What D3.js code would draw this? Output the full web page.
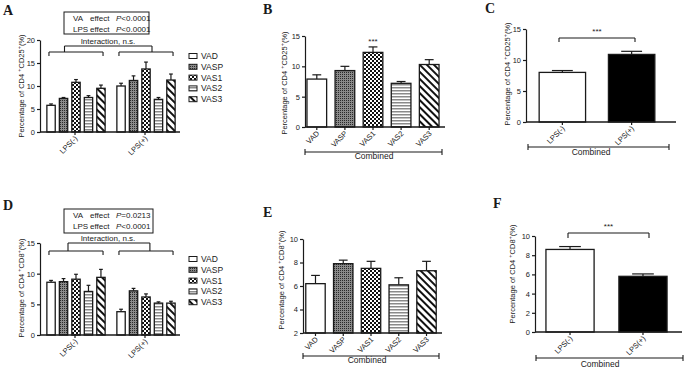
<!DOCTYPE html>
<html>
<head>
<meta charset="utf-8">
<script src="https://cdn.jsdelivr.net/npm/d3@7"></script>
<style>
  body { margin: 0; background: #fff; }
  text { font-family: "Liberation Sans", Arial, sans-serif; fill: #1a1a1a; }
</style>
</head>
<body>
<svg width="686" height="370"></svg>
<script>
// ---- data ----
const groups = ["VAD", "VASP", "VAS1", "VAS2", "VAS3"];
const lps = ["LPS(-)", "LPS(+)"];

// A: CD4+CD25+ by LPS and VA group
const aNeg = [5.8, 7.3, 10.8, 7.5, 9.5];
const aNegErr = [0.3, 0.2, 0.6, 0.4, 0.7];
const aPos = [10.0, 11.2, 13.7, 7.1, 11.3];
const aPosErr = [0.6, 1.0, 1.5, 0.4, 1.3];
const aTicks = [0, 5, 10, 15, 20];
const aStats = [["VA", "P<0.0001"], ["LPS", "P<0.0001"]];

// B: CD4+CD25+ combined by VA group
const bMean = [7.9, 9.3, 12.3, 7.2, 10.3];
const bErr = [0.7, 0.7, 0.9, 0.3, 0.8];
const bTicks = [0, 5, 10, 15];

// C: CD4+CD25+ combined by LPS
const cMean = [8.0, 10.9];
const cErr = [0.3, 0.5];
const cTicks = [0, 5, 10, 15];

// D: CD4+CD8+ by LPS and VA group
const dNeg = [8.6, 8.7, 9.1, 7.1, 9.4];
const dNegErr = [0.3, 0.5, 0.8, 1.0, 1.3];
const dPos = [3.8, 7.2, 6.2, 5.2, 5.2];
const dPosErr = [0.4, 0.4, 0.5, 0.2, 0.3];
const dTicks = [0, 5, 10, 15];
const dStats = [["VA", "P=0.0213"], ["LPS", "P<0.0001"]];

// E: CD4+CD8+ combined by VA group
const eMean = [6.2, 7.9, 7.5, 6.1, 7.3];
const eErr = [0.7, 0.3, 0.6, 0.6, 0.8];
const eTicks = [2, 4, 6, 8, 10];

// F: CD4+CD8+ combined by LPS
const fMean = [8.6, 5.8];
const fErr = [0.3, 0.25];
const fTicks = [0, 2, 4, 6, 8, 10];

// ---- drawing ----
const svg = d3.select('svg');
const ink = '#1a1a1a';
const font = '"Liberation Sans", Arial, sans-serif';

// fill patterns
const defs = svg.append('defs');
function pattern(id, w, h, transform) {
  const p = defs.append('pattern').attr('id', id)
    .attr('width', w).attr('height', h)
    .attr('patternUnits', 'userSpaceOnUse');
  if (transform) p.attr('patternTransform', transform);
  return p;
}
let p = pattern('pVASP', 2, 2);
p.append('rect').attr('width', 2).attr('height', 2).attr('fill', '#8a8a8a');
p.append('rect').attr('width', 1).attr('height', 1).attr('fill', '#2a2a2a');
p = pattern('pVAS1', 4, 4);
p.append('rect').attr('width', 4).attr('height', 4).attr('fill', '#fff');
p.append('rect').attr('width', 2).attr('height', 2).attr('fill', '#111');
p.append('rect').attr('x', 2).attr('y', 2).attr('width', 2).attr('height', 2).attr('fill', '#111');
p = pattern('pVAS2', 4, 3);
p.append('rect').attr('width', 4).attr('height', 3).attr('fill', '#fff');
p.append('rect').attr('width', 4).attr('height', 1.5).attr('fill', '#8a8a8a');
p = pattern('pVAS3', 5, 5, 'rotate(-45)');
p.append('rect').attr('width', 5).attr('height', 5).attr('fill', '#fff');
p.append('rect').attr('width', 2).attr('height', 5).attr('fill', '#111');

const groupFill = ['#fff', 'url(#pVASP)', 'url(#pVAS1)', 'url(#pVAS2)', 'url(#pVAS3)'];

function line(x1, y1, x2, y2, w) {
  svg.append('line').attr('x1', x1).attr('y1', y1).attr('x2', x2).attr('y2', y2)
    .attr('stroke', ink).attr('stroke-width', w || 1.2);
}

function yAxis(x0, y, ticks) {
  const g = svg.append('g').attr('transform', `translate(${x0},0)`)
    .call(d3.axisLeft(y).tickValues(ticks).tickSize(3).tickSizeOuter(0).tickPadding(2));
  g.attr('font-family', font);
  g.selectAll('path,line').attr('stroke', ink).attr('stroke-width', 1.2);
  g.selectAll('text').attr('font-size', 7.5).attr('fill', ink);
}

function bars(xs, bw, means, errs, fills, y, base) {
  means.forEach((m, i) => {
    const x = xs[i], cx = x + bw / 2, cw = bw * 0.45;
    line(cx, y(m), cx, y(m + errs[i]), 1.2);
    line(cx - cw / 2, y(m + errs[i]), cx + cw / 2, y(m + errs[i]), 1.2);
    svg.append('rect').attr('x', x).attr('y', y(m))
      .attr('width', bw).attr('height', y(base) - y(m))
      .attr('fill', fills[i]).attr('stroke', ink).attr('stroke-width', 1.3);
  });
}

function xAxis(x0, x1, yb, centers, labels) {
  line(x0, yb, x1, yb, 1.3);
  centers.forEach((cx, i) => {
    line(cx, yb, cx, yb + 3, 1.2);
    svg.append('text').attr('text-anchor', 'end').attr('font-size', 7.5)
      .attr('transform', `translate(${cx + 3},${yb + 7}) rotate(-45)`)
      .text(labels[i]);
  });
}

function yLabel(x, y, marker) {
  const t = svg.append('text').attr('text-anchor', 'middle').attr('font-size', 7.5)
    .attr('transform', `translate(${x},${y}) rotate(-90)`);
  t.append('tspan').text('Percentage of CD4 ');
  t.append('tspan').attr('dy', -3).attr('font-size', 5.5).text('+');
  t.append('tspan').attr('dy', 3).text(marker);
  t.append('tspan').attr('dy', -3).attr('font-size', 5.5).text('+');
  t.append('tspan').attr('dy', 3).text('(%)');
}

function letter(x, y, s) {
  svg.append('text').attr('x', x).attr('y', y).attr('font-size', 14)
    .attr('font-weight', 'bold').style('font-family', '"Liberation Serif", "Times New Roman", serif')
    .text(s);
}

function combined(x0, x1, yl, tx, ty) {
  line(x0, yl, x1, yl, 1.1);
  line(x0, yl - 3, x0, yl + 3, 1.1);
  line(x1, yl - 3, x1, yl + 3, 1.1);
  svg.append('text').attr('x', tx).attr('y', ty).attr('text-anchor', 'middle')
    .attr('font-size', 8.5).text('Combined');
}

function sigBracket(x0, x1, yl, drop) {
  line(x0, yl, x1, yl, 1.1);
  line(x0, yl, x0, yl + drop, 1.1);
  line(x1, yl, x1, yl + drop, 1.1);
  svg.append('text').attr('x', (x0 + x1) / 2).attr('y', yl - 4)
    .attr('text-anchor', 'middle').attr('font-size', 8).text('***');
}

function statsBox(x, y, w, h, stats) {
  svg.append('rect').attr('x', x).attr('y', y).attr('width', w).attr('height', h)
    .attr('fill', '#fff').attr('stroke', ink).attr('stroke-width', 1);
  stats.forEach((s, i) => {
    const ty = y + 9 + i * 10.5;
    svg.append('text').attr('x', x + 9).attr('y', ty).attr('font-size', 8).text(s[0]);
    svg.append('text').attr('x', x + 26).attr('y', ty).attr('font-size', 8).text('effect');
    const t = svg.append('text').attr('x', x + 52).attr('y', ty).attr('font-size', 8);
    t.append('tspan').attr('font-style', 'italic').text(s[1][0]);
    t.append('tspan').text(s[1].slice(1));
  });
}

function legend(x, y0) {
  groups.forEach((gname, i) => {
    const y = y0 + i * 10.8;
    svg.append('rect').attr('x', x).attr('y', y - 2.5).attr('width', 8).attr('height', 5)
      .attr('fill', groupFill[i]).attr('stroke', ink).attr('stroke-width', 1);
    svg.append('text').attr('x', x + 12).attr('y', y + 3).attr('font-size', 8.5).text(gname);
  });
}

// grouped panel (A, D)
function grouped(cfg) {
  const y = d3.scaleLinear().domain([0, d3.max(cfg.ticks)]).range([cfg.y0, cfg.y1]);
  const xg = d3.scaleBand().domain(lps).range([40, 180]);
  const xi = d3.scaleBand().domain(groups).range([5, 67]).paddingInner(0.33).paddingOuter(0.15);
  const bw = xi.bandwidth();
  [[cfg.neg, cfg.negErr], [cfg.pos, cfg.posErr]].forEach(([m, e], k) => {
    const xs = groups.map(gname => xg(lps[k]) + xi(gname));
    bars(xs, bw, m, e, groupFill, y, 0);
  });
  yAxis(40, y, cfg.ticks);
  xAxis(40, 180, y(0), lps.map(l => xg(l) + xg.bandwidth() / 2), lps);
  yLabel(24, cfg.labelY, cfg.marker);
  // brackets
  const gl = lps.map(l => xg(l) + xi(groups[0]) + bw * 0.25);
  const gr = lps.map(l => xg(l) + xi(groups[4]) + bw * 0.75);
  lps.forEach((l, k) => {
    line(gl[k], cfg.gY, gr[k], cfg.gY, 1.1);
    line(gl[k], cfg.gY, gl[k], cfg.gY + 4, 1.1);
    line(gr[k], cfg.gY, gr[k], cfg.gY + 4, 1.1);
  });
  const t0 = xg(lps[0]) + xg.bandwidth() * cfg.tL, t1 = xg(lps[1]) + xg.bandwidth() * cfg.tR;
  line(t0, cfg.tY, t1, cfg.tY, 1.1);
  line(t0, cfg.tY, t0, cfg.gY, 1.1);
  line(t1, cfg.tY, t1, cfg.gY, 1.1);
  svg.append('text').attr('x', 108).attr('y', cfg.tY - 2).attr('text-anchor', 'middle')
    .attr('font-size', 8).text('Interaction, n.s.');
  statsBox(cfg.box[0], cfg.box[1], cfg.box[2], cfg.box[3], cfg.stats);
  legend(189, cfg.legY);
}

// simple panel (B, C, E, F)
function simple(cfg) {
  const y = d3.scaleLinear().domain([d3.min(cfg.ticks), d3.max(cfg.ticks)]).range([cfg.y0, cfg.y1]);
  const x = d3.scaleBand().domain(cfg.cats).range(cfg.xr).paddingInner(cfg.pi).paddingOuter(cfg.po);
  const bw = x.bandwidth();
  bars(cfg.cats.map(c => x(c)), bw, cfg.mean, cfg.err, cfg.fills, y, d3.min(cfg.ticks));
  yAxis(cfg.xr[0], y, cfg.ticks);
  xAxis(cfg.xr[0], cfg.axEnd, cfg.y0, cfg.cats.map(c => x(c) + bw / 2), cfg.cats);
  yLabel(cfg.labelX, cfg.labelY, cfg.marker);
  combined(cfg.comb[0], cfg.comb[1], cfg.comb[2], cfg.comb[3], cfg.comb[4]);
  return { x, y, bw };
}

// A
letter(3, 15, 'A');
grouped({ neg: aNeg, negErr: aNegErr, pos: aPos, posErr: aPosErr, ticks: aTicks,
  y0: 132, y1: 40, labelY: 86, marker: 'CD25', gY: 52, tY: 46, tL: 0.35, tR: 0.6,
  box: [64, 12, 85, 22], stats: aStats, legY: 56 });

// B
letter(263, 14, 'B');
const pb = simple({ cats: groups, mean: bMean, err: bErr, fills: groupFill, ticks: bTicks,
  y0: 127, y1: 36, xr: [305, 441], pi: 0.3, po: 0.07, axEnd: 445,
  labelX: 287, labelY: 83, marker: 'CD25', comb: [305, 442, 152, 374, 159] });
svg.append('text').attr('x', pb.x('VAS1') + pb.bw / 2).attr('y', pb.y(bMean[2] + bErr[2]) - 3)
  .attr('text-anchor', 'middle').attr('font-size', 8).text('***');

// C
letter(485, 13, 'C');
simple({ cats: lps, mean: cMean, err: cErr, fills: ['#fff', '#000'], ticks: cTicks,
  y0: 122, y1: 29, xr: [526, 668], pi: 0.33, po: 0.19, axEnd: 676,
  labelX: 510, labelY: 74, marker: 'CD25', comb: [528, 669, 147, 591, 155] });
sigBracket(559, 635, 38, 4);

// D
letter(3, 210, 'D');
grouped({ neg: dNeg, negErr: dNegErr, pos: dPos, posErr: dPosErr, ticks: dTicks,
  y0: 335, y1: 243, labelY: 288, marker: 'CD8', gY: 251, tY: 243, tL: 0.4, tR: 0.57,
  box: [64, 209, 89, 24], stats: dStats, legY: 259 });

// E
letter(263, 217, 'E');
simple({ cats: groups, mean: eMean, err: eErr, fills: groupFill, ticks: eTicks,
  y0: 333, y1: 239, xr: [303, 439], pi: 0.3, po: 0.1, axEnd: 442,
  labelX: 284, labelY: 280, marker: 'CD8', comb: [303, 439, 356, 367, 363] });

// F
letter(493, 208, 'F');
simple({ cats: lps, mean: fMean, err: fErr, fills: ['#fff', '#000'], ticks: fTicks,
  y0: 332, y1: 236, xr: [535, 678], pi: 0.34, po: 0.15, axEnd: 682,
  labelX: 515, labelY: 274, marker: 'CD8', comb: [536, 683, 358, 600, 367] });
sigBracket(568, 649, 233, 5);
</script>
</body>
</html>
